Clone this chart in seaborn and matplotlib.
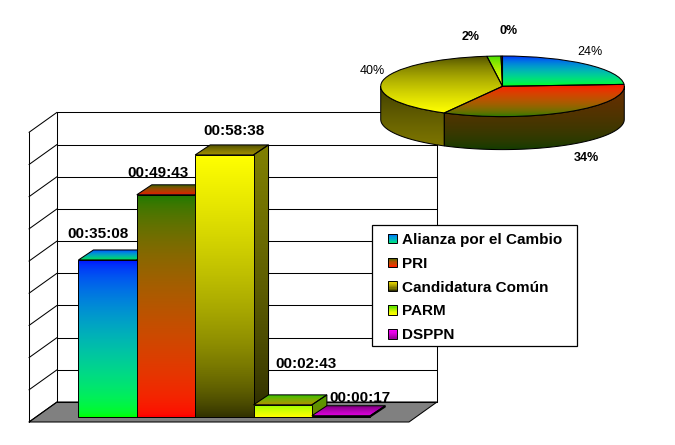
import numpy as np
import pandas as pd
import matplotlib
matplotlib.use("Agg")
import matplotlib.pyplot as plt
import seaborn as sns
from matplotlib.colors import to_rgb
from matplotlib.legend_handler import HandlerBase
from matplotlib.patches import Patch, Polygon, Rectangle

partidos = ["Alianza por el Cambio", "PRI", "Candidatura Común", "PARM", "DSPPN"]
tiempos = ["00:35:08", "00:49:43", "00:58:38", "00:02:43", "00:00:17"]

# gradient ends per party (top, bottom) for each bar face
frente = [("#0000ff", "#00ff00"), ("#1a7a00", "#ff0000"), ("#ffff00", "#333300"),
          ("#90ff00", "#ffff00"), ("#ff00ff", "#800080")]
tapa = [("#0050ff", "#00e040"), ("#3a6000", "#e01000"), ("#4f4f00", "#a09000"),
        ("#30c000", "#b09000"), ("#800080", "#e000e0")]
lado = [("#004080", "#008040"), ("#104000", "#800000"), ("#808000", "#2a2a00"),
        ("#50a000", "#708000"), ("#800080", "#400040")]
leyenda = [("#0060ff", "#00e080"), ("#2a6a00", "#ff2000"), ("#e0d000", "#333300"),
           ("#30e000", "#ffff00"), ("#ff00ff", "#a000a0")]
pie_arriba = [("#0000ff", "#00ff00"), ("#ff0000", "#1a7a00"), ("#4f4f00", "#ffff00"),
              ("#30e000", "#ffff00"), ("#ff00ff", "#800080")]
pie_pared = [("#6b2c00", "#0f3c00"), ("#6b2c00", "#0f3c00"), ("#3c3c00", "#807800"),
             ("#3c3c00", "#807800"), ("#3c3c00", "#807800")]

segundos = [sum(int(p) * m for p, m in zip(t.split(":"), (3600, 60, 1))) for t in tiempos]
df = pd.DataFrame({"partido": partidos, "segundos": segundos})

# 0.005 day between gridlines
paso = 432
n_pasos = 9

px_cat = 58.35   # pixels per category
px_seg = 0.0745  # pixels per second
x0 = 107.65      # pixel of first bar centre
y0 = 417         # pixel of the bar base


def dx(px):
    return px / px_cat


def dy(px):
    return px / px_seg


def X(px):
    return (px - x0) / px_cat


def Y(py):
    return (y0 - py) / px_seg


def mezcla(arriba, abajo, t):
    # blend in squared values, the midtones stay bright like the original
    a, b = np.array(to_rgb(arriba)), np.array(to_rgb(abajo))
    return np.sqrt(a ** 2 * (1 - t) + b ** 2 * t)


def gradiente(ax, patch, arriba, abajo, extent, zorder):
    t = np.linspace(0, 1, 128)[:, None, None]
    im = ax.imshow(mezcla(arriba, abajo, t), extent=extent, aspect="auto", zorder=zorder, origin="upper")
    im.set_clip_path(patch)


class HandlerGradiente(HandlerBase):
    def create_artists(self, legend, orig, xd, yd, width, height, fontsize, trans):
        i = partidos.index(orig.get_label())
        artists = []
        n = 8
        for k in range(n):
            c = mezcla(leyenda[i][0], leyenda[i][1], k / (n - 1))
            artists.append(Rectangle((-xd, -yd + height * (n - 1 - k) / n), width, height / n,
                                     facecolor=c, edgecolor="none", transform=trans))
        artists.append(Rectangle((-xd, -yd), width, height, facecolor="none",
                                 edgecolor="black", linewidth=0.7, transform=trans))
        return artists


sns.set_theme(style="white")
plt.rcParams["font.family"] = ["Liberation Sans", "DejaVu Sans"]

fig = plt.figure(figsize=(6.75, 4.45), dpi=100)
ax = fig.add_axes([0, 0, 1, 1])

sns.barplot(data=df, x="partido", y="segundos", width=1, color="white", saturation=1,
            edgecolor="black", linewidth=0.7, ax=ax)
barras = list(ax.patches)

lw = 0.75
# walls and floor
back_x0, back_x1 = X(57), X(437)
front_x0, front_x1 = X(29), X(409)
back_y, front_y = Y(402), Y(422)
ax.add_patch(Polygon([(front_x0, front_y), (back_x0, back_y), (back_x1, back_y), (front_x1, front_y)],
                     facecolor="#808080", edgecolor="black", linewidth=lw, zorder=1))
for k in range(n_pasos + 1):
    h = k * paso
    ax.plot([back_x0, back_x1], [back_y + h, back_y + h], color="black", lw=lw, zorder=1)
    ax.plot([front_x0, back_x0], [front_y + h, back_y + h], color="black", lw=lw, zorder=1)
tope = n_pasos * paso
ax.plot([back_x0, back_x0], [back_y, back_y + tope], color="black", lw=lw, zorder=1)
ax.plot([back_x1, back_x1], [back_y, back_y + tope], color="black", lw=lw, zorder=1)
ax.plot([front_x0, front_x0], [front_y, front_y + tope], color="black", lw=lw, zorder=1)

# bars: front from seaborn, depth faces added on top
prof_x, prof_y = dx(15), dy(10)
offsets = [(-10, 26), (-8, 22), (10, 24), (23, 41), (19, 18)]
for i, bar in enumerate(barras):
    z = 3 + i
    x, w, h = bar.get_x(), bar.get_width(), bar.get_height()
    top = Polygon([(x, h), (x + prof_x, h + prof_y), (x + w + prof_x, h + prof_y), (x + w, h)],
                  facecolor="none", edgecolor="black", linewidth=lw, zorder=z + 0.2)
    side = Polygon([(x + w, 0), (x + w + prof_x, prof_y), (x + w + prof_x, h + prof_y), (x + w, h)],
                   facecolor="none", edgecolor="black", linewidth=lw, zorder=z + 0.2)
    ax.add_patch(top)
    ax.add_patch(side)
    gradiente(ax, top, tapa[i][0], tapa[i][1], (x, x + w + prof_x, h, h + prof_y), z + 0.1)
    gradiente(ax, side, lado[i][0], lado[i][1], (x + w, x + w + prof_x, 0, h + prof_y), z + 0.1)
    bar.set_zorder(z + 0.4)
    bar.set_facecolor("none")
    gradiente(ax, bar, frente[i][0], frente[i][1], (x, x + w, 0, h), z + 0.3)
    ox, oy = offsets[i]
    ax.text(i + dx(ox), h + dy(oy), tiempos[i], ha="center", va="center", fontsize=11,
            fontweight="bold", color="black", zorder=20)

ax.set_xlim(X(0), X(675))
ax.set_ylim(Y(445), Y(0))
ax.axis("off")

# legend box is drawn apart so it can be wider than the labels need
ax.add_patch(Rectangle((X(372), Y(346)), dx(205), dy(121), facecolor="white", edgecolor="black",
                       linewidth=0.9, zorder=25))
handles = [Patch(label=p) for p in partidos]
leg = ax.legend(handles=handles, handler_map={Patch: HandlerGradiente()}, loc="upper left",
                bbox_to_anchor=(X(388), Y(233)), bbox_transform=ax.transData, borderaxespad=0,
                frameon=False, labelcolor="black",
                prop={"family": "Liberation Sans", "weight": "bold", "size": 11},
                handlelength=0.59, handleheight=0.59, handletextpad=0.33, labelspacing=0.64,
                borderpad=0)
leg.set_zorder(30)

# pie
cx, cy, rx, ry, hondo = 502.5, 86.3, 121.8, 30.3, 33
d = hondo / ry
ax_pie = fig.add_axes([(cx - rx) / 675, 1 - (cy + ry + hondo) / 445, 2 * rx / 675, (2 * ry + hondo) / 445],
                      zorder=5)
ax_pie.patch.set_alpha(0)
wedges, _ = ax_pie.pie(segundos, startangle=90, counterclock=False, radius=1,
                       wedgeprops={"edgecolor": "black", "linewidth": lw, "facecolor": "none",
                                   "zorder": 4, "clip_on": False})
for i, w in enumerate(wedges):
    t1, t2 = w.theta1, w.theta2
    # visible wall is the part of the rim below the centre line
    a1, a2 = max(t1, -180), min(t2, 0)
    if a2 > a1:
        th = np.radians(np.linspace(a1, a2, 80))
        xs, ys = np.cos(th), np.sin(th)
        pts = np.r_[np.c_[xs, ys], np.c_[xs[::-1], ys[::-1] - d]]
        wall = Polygon(pts, facecolor="none", edgecolor="black", linewidth=lw, zorder=2, clip_on=False)
        ax_pie.add_patch(wall)
        gradiente(ax_pie, wall, pie_pared[i][0], pie_pared[i][1], (-1, 1, -1 - d, 0), 1.5)
    ext = w.get_path().get_extents()
    gradiente(ax_pie, w, pie_arriba[i][0], pie_arriba[i][1], (ext.x0, ext.x1, ext.y0, ext.y1), 3)
ax_pie.set_aspect("auto")
ax_pie.set_xlim(-1, 1)
ax_pie.set_ylim(-1 - d, 1)
ax_pie.axis("off")

total = sum(segundos)
pct = [f"{round(s / total * 100)}%" for s in segundos]
pos_pie = [(590, 52, "normal"), (586, 158, "bold"), (372, 71, "normal"), (471, 37, "bold"), (509, 31, "bold")]
for txt, (px, py, peso) in zip(pct, pos_pie):
    ax.text(X(px), Y(py), txt, ha="center", va="center", fontsize=9, fontweight=peso, color="black")

fig.savefig("out.png", dpi=100)
